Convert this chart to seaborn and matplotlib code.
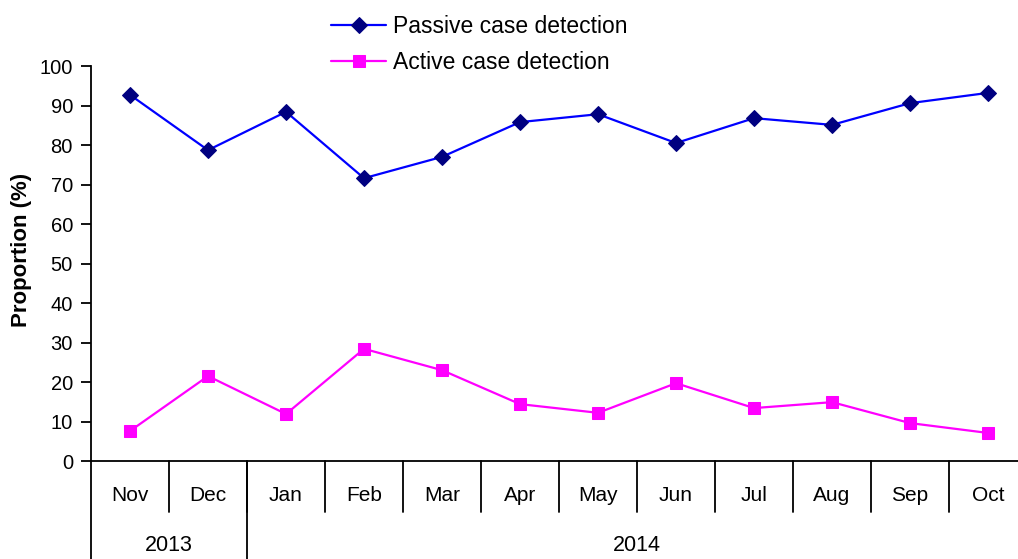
import pandas as pd
import matplotlib
matplotlib.use("Agg")
import matplotlib.pyplot as plt
import seaborn as sns

# datos
meses = ["Nov", "Dec", "Jan", "Feb", "Mar", "Apr", "May", "Jun", "Jul", "Aug", "Sep", "Oct"]
anios = ["2013", "2014"]
meses_por_anio = [2, 10]
pasiva = [92.7, 78.7, 88.4, 71.6, 77.0, 85.8, 87.8, 80.5, 86.8, 85.1, 90.6, 93.2]
activa = [7.6, 21.5, 11.9, 28.4, 23.0, 14.4, 12.2, 19.7, 13.4, 14.9, 9.6, 7.1]

df = pd.DataFrame({"mes": meses, "pasiva": pasiva, "activa": activa})

sns.set_theme(style="white")
plt.rcParams["font.family"] = ["Liberation Sans", "DejaVu Sans"]
plt.rcParams["text.color"] = "black"
plt.rcParams["axes.labelcolor"] = "black"
plt.rcParams["ytick.color"] = "black"
plt.rcParams["ytick.labelcolor"] = "black"

fig = plt.figure(figsize=(10.18, 5.59), dpi=100)
ax = fig.add_axes([0.0894, 0.1753, 0.9195, 0.7066])

sns.lineplot(data=df, x="mes", y="pasiva", ax=ax, sort=False, color="#0000FF", linewidth=1.6,
             marker="D", markersize=8.5, markerfacecolor="#000080", markeredgecolor="#000080",
             label="Passive case detection")
sns.lineplot(data=df, x="mes", y="activa", ax=ax, sort=False, color="#FF00FF", linewidth=1.6,
             marker="s", markersize=8.5, markerfacecolor="#FF00FF", markeredgecolor="#FF00FF",
             label="Active case detection")

ax.set_ylim(0, 100)
ax.set_xlim(-0.5, 11.5)
ax.set_yticks(range(0, 101, 10))
ax.tick_params(axis="y", labelsize=14.5, length=7, width=1.3, color="black", pad=6, left=True)
ax.set_xticks([])
ax.set_xlabel("")
ax.set_ylabel("Proportion (%)", fontsize=16, fontweight="bold")
ax.yaxis.set_label_coords(-0.063, 0.535)

for lado in ["top", "right"]:
    ax.spines[lado].set_visible(False)
for lado in ["left", "bottom"]:
    ax.spines[lado].set_color("black")
    ax.spines[lado].set_linewidth(1.3)

# eje de categorias con dos niveles (meses y anios)
trans = ax.get_xaxis_transform()
for i, m in enumerate(meses):
    ax.text(i, -0.088, m, transform=trans, ha="center", va="center", fontsize=15)
for i in range(1, len(meses)):
    ax.plot([i - 0.5, i - 0.5], [0, -0.129], transform=trans, color="black", lw=1.3, clip_on=False)

inicio = -0.5
for anio, n in zip(anios, meses_por_anio):
    ax.text(inicio + n / 2, -0.215, anio, transform=trans, ha="center", va="center", fontsize=15.5)
    ax.plot([inicio, inicio], [0, -0.3], transform=trans, color="black", lw=1.3, clip_on=False)
    inicio += n

handles, labels = ax.get_legend_handles_labels()
ax.get_legend().remove()
fig.legend(handles, labels, loc="upper left", bbox_to_anchor=(0.305, 1.01), frameon=False,
           fontsize=16.5, handlelength=2.4, handletextpad=0.3, labelspacing=0.55)

fig.savefig("out.png", dpi=100)
